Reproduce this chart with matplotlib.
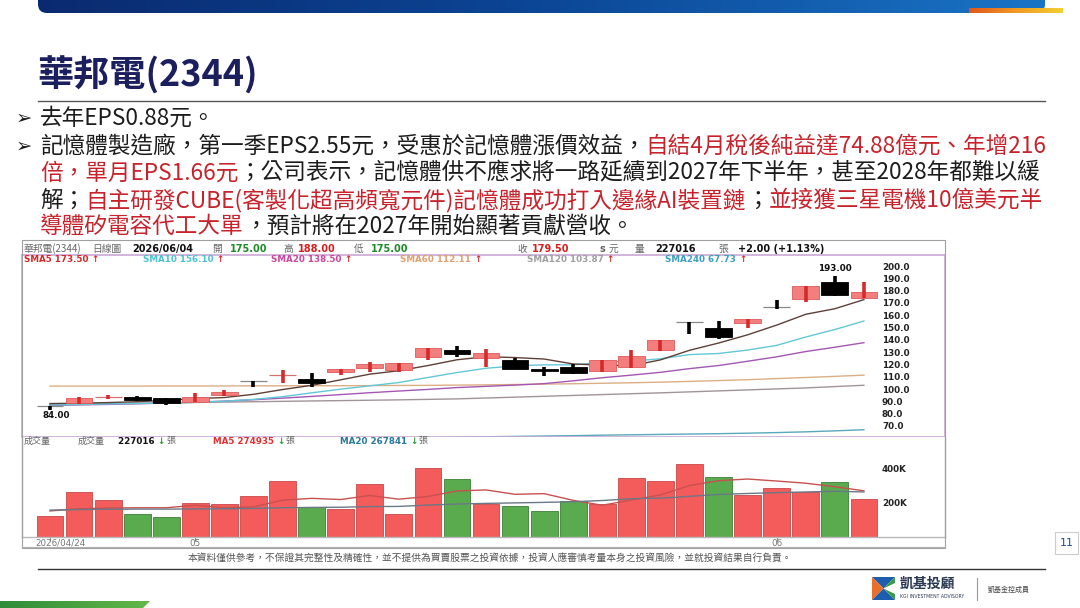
import numpy as np
import matplotlib
matplotlib.use('Agg')
import matplotlib.pyplot as plt
from matplotlib.patches import Rectangle, FancyBboxPatch, Polygon
from matplotlib.colors import LinearSegmentedColormap
from matplotlib.transforms import blended_transform_factory

# ---- data (2026/04/24 .. 2026/06/04) ----
opens = [87.3, 89.2, 94.5, 94.3, 93.2, 90.5, 95.6, 107.6, 112.5, 109.0, 114.4, 117.6, 116.3, 127.1, 132.5,
         125.8, 124.4, 117.3, 118.9, 115.7, 118.9, 132.5, 155.0, 150.1, 154.8, 167.8, 173.7, 188.0, 175.0]
closes = [87.2, 93.7, 94.7, 92.1, 89.2, 94.6, 98.1, 107.5, 112.8, 106.0, 117.1, 120.9, 121.7, 133.9, 129.3,
          129.8, 117.1, 115.3, 113.6, 124.4, 127.9, 140.7, 154.9, 143.3, 157.5, 167.7, 184.6, 177.5, 179.5]
highs = [87.3, 94.5, 95.9, 95.4, 93.5, 97.3, 100.0, 107.7, 116.3, 114.0, 117.2, 123.0, 121.8, 134.0, 135.8,
         133.1, 126.3, 118.5, 121.1, 124.5, 132.5, 140.8, 155.1, 156.1, 157.6, 173.2, 184.7, 193.0, 188.0]
lows = [84.0, 88.5, 92.6, 91.1, 87.8, 90.0, 95.5, 102.7, 105.4, 102.7, 112.2, 114.9, 114.4, 124.4, 127.1,
        118.5, 117.0, 111.4, 113.3, 114.9, 118.1, 132.0, 145.3, 141.5, 150.7, 165.9, 171.3, 176.7, 175.0]

sma5 = [89.0, 89.3, 89.8, 90.5, 91.6, 93.0, 93.9, 96.5, 100.4, 103.8, 108.3, 112.9, 115.7, 119.9, 124.6,
        127.1, 126.4, 125.2, 121.2, 120.2, 119.8, 124.5, 132.3, 138.2, 144.9, 152.8, 161.6, 166.1, 173.5]
sma10 = [87.8, 88.2, 88.7, 89.1, 89.4, 90.0, 90.9, 92.4, 94.6, 97.7, 100.7, 103.4, 106.1, 110.2, 114.2,
         117.7, 119.6, 120.5, 120.5, 122.4, 123.5, 125.4, 128.8, 129.7, 132.5, 136.3, 143.1, 149.2, 156.1]
sma20 = [87.5, 87.9, 88.3, 88.8, 89.4, 90.1, 91.0, 92.1, 93.4, 94.8, 96.3, 97.8, 99.2, 100.5, 102.0,
         103.0, 104.0, 105.2, 107.5, 110.0, 112.1, 114.4, 117.4, 119.9, 123.4, 127.0, 131.3, 134.8, 138.5]
sma60 = [103.2, 103.2, 103.2, 103.2, 103.3, 103.3, 103.3, 103.4, 103.4, 103.5, 103.5, 103.6, 103.7, 103.8, 104.0,
         104.2, 104.5, 104.8, 105.1, 105.5, 105.9, 106.4, 107.0, 107.7, 108.4, 109.3, 110.2, 111.1, 112.11]
sma120 = [88.4, 88.7, 89.0, 89.3, 89.6, 89.9, 90.2, 90.5, 90.8, 91.1, 91.4, 91.7, 92.0, 92.4, 92.8,
          93.5, 94.2, 94.9, 95.6, 96.3, 97.0, 97.7, 98.5, 99.3, 100.1, 100.9, 101.7, 102.8, 103.87]
sma240 = [56.0, 56.4, 56.8, 57.2, 57.6, 58.0, 58.4, 58.8, 59.2, 59.6, 60.0, 60.4, 60.8, 61.2, 61.6,
          62.0, 62.3, 62.6, 62.9, 63.3, 63.6, 63.9, 64.2, 64.5, 64.9, 65.4, 66.0, 66.8, 67.73]

volume = [125, 270, 220, 135, 121, 200, 196, 242, 335, 177, 165, 314, 135, 412, 343,
          196, 186, 155, 212, 196, 353, 333, 434, 357, 248, 292, 270, 327, 227]   # K shares
vol_up = [1, 1, 1, 0, 0, 1, 1, 1, 1, 0, 1, 1, 1, 1, 0,
          1, 0, 0, 0, 1, 1, 1, 1, 0, 1, 1, 1, 0, 1]
vol_ma5 = [155, 168, 172, 174, 174, 189, 174, 179, 219, 230, 223, 247, 225, 241, 274,
           280, 254, 258, 218, 189, 220, 250, 306, 335, 345, 333, 320, 299, 275]
vol_ma20 = [160, 163, 165, 166, 166, 167, 168, 170, 174, 176, 177, 181, 182, 190, 196,
            200, 203, 206, 210, 217, 228, 231, 242, 253, 259, 264, 268, 272, 268]

price_ticks = [200, 190, 180, 170, 160, 150, 140, 130, 120, 110, 100, 90, 80, 70]
vol_ticks = [400, 200]
date_ticks = [0, 5, 25]
date_labels = ['2026/04/24', '05', '06']

CJK = ['Noto Sans CJK TC', 'DejaVu Sans']
BLACK = '#1c1c1c'
RED = '#c8232c'

W, H = 1080, 608
fig = plt.figure(figsize=(10.8, 6.08), dpi=100)
fig.patch.set_facecolor('white')


def px_axes(l, t, r, b, **kw):
    return fig.add_axes([l / W, (H - b) / H, (r - l) / W, (b - t) / H], **kw)


n = len(closes)
x = np.arange(n)
xlim = (-0.963, 30.79)

# ---- price panel ----
pax = px_axes(22, 255, 945, 437)
pax.set_xlim(*xlim)
pax.set_ylim(61.8, 209.8)
pax.set_xticks([])
pax.set_yticks([])
for s in pax.spines.values():
    s.set_color('#c9a8d6')
    s.set_linewidth(1.2)

ma_lines = [(sma240, '#5aa8bc'), (sma120, '#a0949a'), (sma60, '#dcae84'),
            (sma20, '#a456b4'), (sma10, '#62c8d8'), (sma5, '#5e4038')]
for vals, col in ma_lines:
    pax.plot(x, vals, color=col, lw=1.0, zorder=2)

for i in range(n):
    o, c = opens[i], closes[i]
    up = c >= o
    wick = '#d42a2a' if up else 'black'
    if abs(c - o) < 0.5:
        pax.hlines(o, i - 0.46, i + 0.46, color='#d87070' if up else '#888888', lw=0.9, zorder=3)
    else:
        pax.bar(i, c - o, bottom=o, width=0.92, color='#f27e7e' if up else 'black',
                edgecolor='#e05a5a' if up else 'black', lw=0.6, zorder=3)
    pax.vlines(i, lows[i], highs[i], color=wick, lw=2.6, zorder=4)

ptr = blended_transform_factory(pax.transAxes, pax.transData)
for v in price_ticks:
    pax.text(0.9317, v, f'{v:.1f}', transform=ptr, fontsize=6.3, fontweight='bold',
             color='#222222', va='center', ha='left')
imax = int(np.argmax(highs))
imin = int(np.argmin(lows))
pax.text(imax, highs[imax] + 2.5, f'{highs[imax]:.2f}', fontsize=6.3, fontweight='bold',
         ha='center', va='bottom', color='#111111')
pax.text(imin + 0.2, lows[imin] - 1.2, f'{lows[imin]:.2f}', fontsize=6.3, fontweight='bold',
         ha='center', va='top', color='#111111')

# ---- volume panel ----
vax = px_axes(22, 437, 945, 537)
vax.set_xlim(*xlim)
vax.set_ylim(0, 595)
vax.set_yticks([])
vax.set_xticks(date_ticks)
vax.set_xticklabels([])
vax.tick_params(axis='x', direction='out', length=3, color='#888888')
for s in vax.spines.values():
    s.set_color('#b8b8b8')
    s.set_linewidth(1.0)
vax.spines['top'].set_visible(False)

vcol = ['#f45c5c' if u else '#5aaa4e' for u in vol_up]
vedge = ['#c84848' if u else '#3f7f38' for u in vol_up]
vax.bar(x, volume, width=0.92, color=vcol, edgecolor=vedge, lw=0.6, zorder=2)
vax.plot(x, vol_ma5, color='#c85050', lw=1.0, zorder=3)
vax.plot(x, vol_ma20, color='#6a7888', lw=1.0, zorder=3)
vtr = blended_transform_factory(vax.transAxes, vax.transData)
for v in vol_ticks:
    vax.text(0.9317, v, f'{v}K', transform=vtr, fontsize=6.3, fontweight='bold',
             color='#222222', va='center', ha='left')

dtr = blended_transform_factory(vax.transData, vax.transAxes)
for pos, lab in zip(date_ticks, date_labels):
    vax.text(pos - 0.5 if pos == 0 else pos, -0.065, lab, transform=dtr, fontsize=6.3, color='#777777',
             ha='left' if pos == 0 else 'center', va='center')

# ---- slide overlay (pixel coordinates) ----
sl = fig.add_axes([0, 0, 1, 1], zorder=10)
sl.axis('off')
renderer = fig.canvas.get_renderer()


def runs(x0, y0, items, **kw):
    xx = x0
    for s, col in items:
        t = sl.text(xx, y0, s, color=col, va='center', ha='left', **kw)
        xx += t.get_window_extent(renderer=renderer).width
    return xx


grad = np.linspace(0, 1, 256).reshape(1, -1)
cm_blue = LinearSegmentedColormap.from_list('bl', ['#0a2a70', '#0c4696', '#1a74c6'])
im = sl.imshow(grad, cmap=cm_blue, extent=[38, 1045, 13, 0], aspect='auto', zorder=1)
clip = FancyBboxPatch((38, -20), 1007, 33, boxstyle='round,pad=0,rounding_size=9',
                      facecolor='none', edgecolor='none')
sl.add_patch(clip)
im.set_clip_path(clip)
cm_or = LinearSegmentedColormap.from_list('or', ['#e0561e', '#f09a22', '#f4cf32'])
sl.imshow(grad, cmap=cm_or, extent=[969, 1063, 13, 8], aspect='auto', zorder=2)
cm_g = LinearSegmentedColormap.from_list('gr', ['#2f8c38', '#62b848'])
img = sl.imshow(grad, cmap=cm_g, extent=[0, 150, 608, 601], aspect='auto', zorder=1)
gpoly = Polygon([(0, 601), (150, 601), (143, 608), (0, 608)], closed=True, facecolor='none', edgecolor='none')
sl.add_patch(gpoly)
img.set_clip_path(gpoly)
sl.set_xlim(0, W)
sl.set_ylim(H, 0)

# title and rules
sl.text(37, 75, '華邦電(2344)', fontsize=26, fontweight='bold', color='#1b1f5e',
        family=CJK, va='center', ha='left')
sl.plot([38, 1045], [101, 101], color='#555555', lw=1.0)
sl.plot([38, 1045], [569, 569], color='#333333', lw=1.0)

# bullets
line_y = [118, 146, 173, 200, 226]
lines = [
    [('去年EPS0.88元。', BLACK)],
    [('記憶體製造廠，第一季EPS2.55元，受惠於記憶體漲價效益，', BLACK), ('自結4月稅後純益達74.88億元、年增216', RED)],
    [('倍，單月EPS1.66元', RED), ('；公司表示，記憶體供不應求將一路延續到2027年下半年，甚至2028年都難以緩', BLACK)],
    [('解；', BLACK), ('自主研發CUBE(客製化超高頻寬元件)記憶體成功打入邊緣AI裝置鏈', RED), ('；', BLACK),
     ('並接獲三星電機10億美元半', RED)],
    [('導體矽電容代工大單', RED), ('，預計將在2027年開始顯著貢獻營收。', BLACK)],
]
for k, (yy, items) in enumerate(zip(line_y, lines)):
    if k < 2:
        sl.text(16, yy, '➢', fontsize=14, color=BLACK, family=['DejaVu Sans'], va='center', ha='left')
    runs(40, yy, items, fontsize=16.3, family=CJK)

# chart frame and header
sl.add_patch(Rectangle((22, 240), 923, 308, facecolor='none', edgecolor='#a0a0a0', lw=0.8))
sl.plot([22, 945], [547, 547], color='#b0b0b0', lw=0.8)
GRAY = '#666666'
hy = 249
hdr = [(24, '華邦電(2344)', GRAY, False), (92, '日線圖', GRAY, False), (132, '2026/06/04', '#111111', True),
       (212, '開', GRAY, False), (230, '175.00', '#1c8c28', True), (283, '高', GRAY, False),
       (298, '188.00', '#d81e1e', True), (354, '低', GRAY, False), (371, '175.00', '#1c8c28', True),
       (517, '收', GRAY, False), (532, '179.50', '#d81e1e', True), (600, 's', GRAY, True),
       (609, '元', GRAY, False), (635, '量', GRAY, False), (655, '227016', '#111111', True),
       (718, '張', GRAY, False), (738, '+2.00 (+1.13%)', '#111111', True)]
for xx, s, col, b in hdr:
    if b:
        sl.text(xx, hy, s, fontsize=7, fontweight='bold', color=col, va='center', ha='left')
    else:
        sl.text(xx, hy, s, fontsize=7, color=col, family=CJK, va='center', ha='left')

sma_leg = [(24, 'SMA5 173.50', '#d42a2a'), (143, 'SMA10 156.10', '#4cc3d0'), (271, 'SMA20 138.50', '#c8489a'),
           (400, 'SMA60 112.11', '#e0a070'), (527, 'SMA120 103.87', '#a0a0a0'), (665, 'SMA240 67.73', '#3a9fc0')]
for xx, s, col in sma_leg:
    runs(xx, 260, [(s + ' ', col), ('↑', '#d42a2a')], fontsize=6.3, fontweight='bold')

vy = 441
sl.text(24, vy, '成交量', fontsize=6.5, color=GRAY, family=CJK, va='center', ha='left')
sl.text(78, vy, '成交量', fontsize=6.5, color=GRAY, family=CJK, va='center', ha='left')
for xx, s, col in [(118, '227016 ', '#111111'), (213, 'MA5 274935 ', '#e03030'), (340, 'MA20 267841 ', '#2a7a9a')]:
    xe = runs(xx, vy, [(s, col), ('↓', '#2a9a3a')], fontsize=6.3, fontweight='bold')
    sl.text(xe + 1, vy, '張', fontsize=6.5, color=GRAY, family=CJK, va='center', ha='left')

# footer
sl.text(490, 558, '本資料僅供參考，不保證其完整性及精確性，並不提供為買賣股票之投資依據，投資人應審慎考量本身之投資風險，並就投資結果自行負責。',
        fontsize=7, color='#555555', family=CJK, va='center', ha='center')
sl.add_patch(Rectangle((1055, 532), 23, 22, facecolor='white', edgecolor='#cccccc', lw=0.8))
sl.text(1066.5, 543, '11', fontsize=8, color='#1f4e8c', va='center', ha='center')

# logo
cx, cy = 883.5, 588.5
sl.add_patch(Polygon([(872, 577), (895, 577), (cx, cy)], facecolor='#1d5fae', edgecolor='none'))
sl.add_patch(Polygon([(872, 577), (872, 600), (cx, cy)], facecolor='#e8702a', edgecolor='none'))
sl.add_patch(Polygon([(872, 600), (895, 600), (cx, cy)], facecolor='#1d5fae', edgecolor='none'))
sl.add_patch(Polygon([(895, 577), (895, 600), (cx, cy)], facecolor='#3a9a48', edgecolor='none'))
sl.add_patch(Polygon([(cx, cy), (895, 583), (895, 594)], facecolor='white', edgecolor='none'))
sl.text(900, 584, '凱基投顧', fontsize=10, fontweight='bold', color='#2b3a55', family=CJK, va='center', ha='left')
sl.text(900, 597, 'KGI INVESTMENT ADVISORY', fontsize=3.3, color='#2b3a55', va='center', ha='left')
sl.plot([977, 977], [578, 600], color='#999999', lw=0.8)
sl.text(988, 590, '凱基金控成員', fontsize=5, color='#444444', family=CJK, va='center', ha='left')

fig.savefig('out.png', dpi=100)
